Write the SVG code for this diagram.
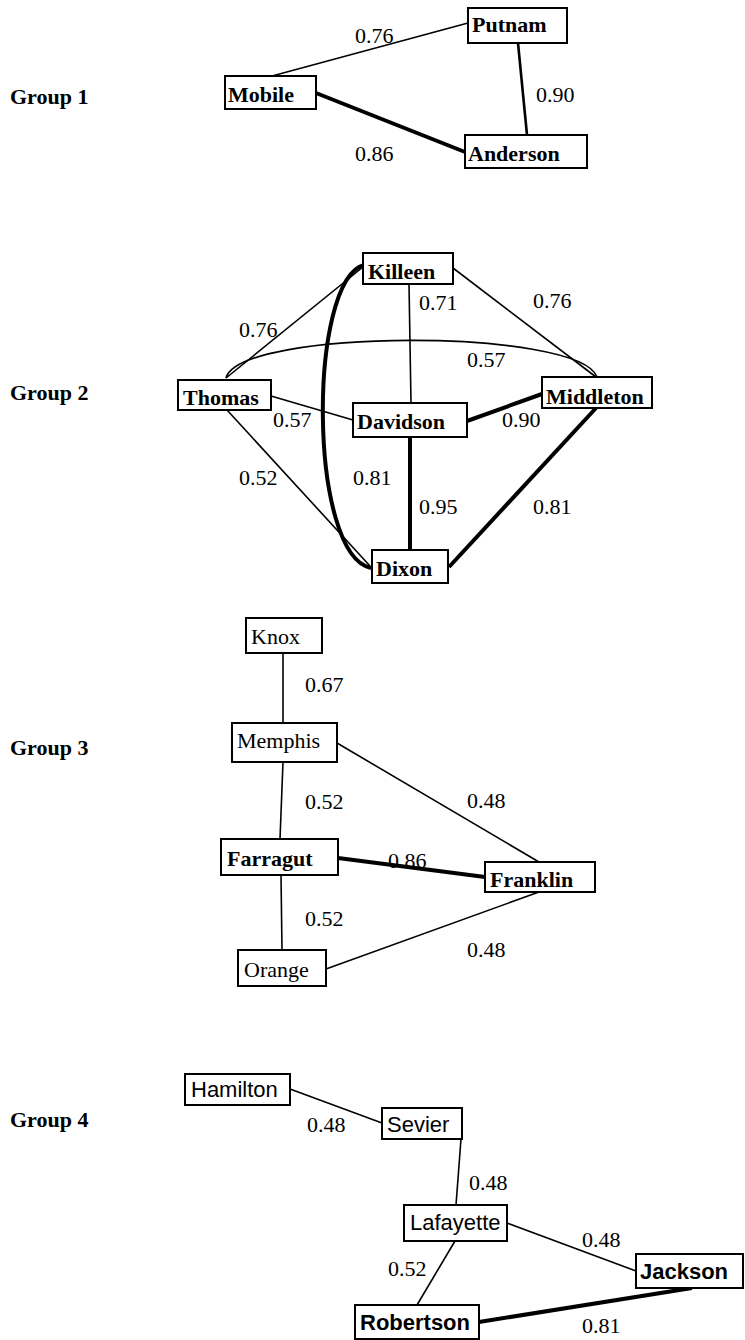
<svg xmlns="http://www.w3.org/2000/svg" width="745" height="1340" viewBox="0 0 745 1340">
<style>
.bg{fill:#fff}
.box{fill:#fff;stroke:#000;stroke-width:2}
text{fill:#000;font-size:22px}
.tb{font-family:"Liberation Serif","Times New Roman",serif;font-weight:bold}
.tr{font-family:"Liberation Serif","Times New Roman",serif}
.sr{font-family:"Liberation Sans",Arial,sans-serif}
.sb{font-family:"Liberation Sans",Arial,sans-serif;font-weight:bold}
.e1{fill:none;stroke:#000;stroke-width:1.6}
.e2{fill:none;stroke:#000;stroke-width:2.6}
.e3{fill:none;stroke:#000;stroke-width:4}
</style>
<rect class="bg" x="0" y="0" width="745" height="1340"/>
<g id="group-labels">
<text class="tb" x="10" y="104">Group 1</text>
<text class="tb" x="10" y="400">Group 2</text>
<text class="tb" x="10" y="755">Group 3</text>
<text class="tb" x="10" y="1127">Group 4</text>
</g>
<g id="connectors">
<line class="e1" x1="272" y1="76" x2="468" y2="23"/>
<line class="e2" x1="518" y1="43" x2="527" y2="135"/>
<line class="e3" x1="316" y1="93" x2="465" y2="152"/>
<line class="e1" x1="363" y1="267" x2="226" y2="378"/>
<line class="e1" x1="453" y1="268" x2="596" y2="377"/>
<line class="e1" x1="409" y1="284" x2="411" y2="403"/>
<path class="e1" d="M226,378 C240,328 580,328 597,377"/>
<line class="e1" x1="271" y1="396" x2="353" y2="420"/>
<line class="e1" x1="227" y1="410" x2="370" y2="566"/>
<path class="e3" d="M364,265 C308,280 308,555 371,568"/>
<line class="e3" x1="410" y1="437" x2="410" y2="550"/>
<line class="e3" x1="467" y1="421" x2="542" y2="394"/>
<line class="e3" x1="596" y1="408" x2="449" y2="567"/>
<line class="e1" x1="283" y1="653" x2="283" y2="723"/>
<line class="e1" x1="283" y1="762" x2="280" y2="839"/>
<line class="e1" x1="337" y1="743" x2="539" y2="862"/>
<line class="e3" x1="338" y1="858" x2="485" y2="877"/>
<line class="e1" x1="281" y1="875" x2="282" y2="950"/>
<line class="e1" x1="539" y1="892" x2="326" y2="969"/>
<line class="e1" x1="290" y1="1089" x2="382" y2="1123"/>
<line class="e1" x1="461" y1="1139" x2="456" y2="1205"/>
<line class="e1" x1="507" y1="1223" x2="636" y2="1271"/>
<line class="e1" x1="455" y1="1241" x2="417" y2="1305"/>
<line class="e3" x1="479" y1="1322" x2="692" y2="1288"/>
</g>
<g id="edge-labels" class="tr">
<text x="355" y="43">0.76</text>
<text x="536" y="102">0.90</text>
<text x="355" y="161">0.86</text>
<text x="239" y="337">0.76</text>
<text x="419" y="310">0.71</text>
<text x="533" y="308">0.76</text>
<text x="467" y="367">0.57</text>
<text x="273" y="427">0.57</text>
<text x="502" y="427">0.90</text>
<text x="239" y="485">0.52</text>
<text x="353" y="485">0.81</text>
<text x="419" y="514">0.95</text>
<text x="533" y="514">0.81</text>
<text x="305" y="692">0.67</text>
<text x="305" y="809">0.52</text>
<text x="467" y="808">0.48</text>
<text x="388" y="868">0.86</text>
<text x="305" y="926">0.52</text>
<text x="467" y="957">0.48</text>
<text x="307" y="1132">0.48</text>
<text x="469" y="1190">0.48</text>
<text x="582" y="1247">0.48</text>
<text x="388" y="1276">0.52</text>
<text x="582" y="1333">0.81</text>
</g>
<g id="Putnam"><rect class="box" x="468" y="8" width="99" height="35"/><text class="tb" x="472" y="32">Putnam</text></g>
<g id="Mobile"><rect class="box" x="225" y="76" width="91" height="33"/><text class="tb" x="228" y="102">Mobile</text></g>
<g id="Anderson"><rect class="box" x="465" y="135" width="122" height="33"/><text class="tb" x="468" y="161">Anderson</text></g>
<g id="Killeen"><rect class="box" x="363" y="253" width="90" height="31"/><text class="tb" x="368" y="279">Killeen</text></g>
<g id="Thomas"><rect class="box" x="178" y="380" width="93" height="30"/><text class="tb" x="183" y="405">Thomas</text></g>
<g id="Davidson"><rect class="box" x="353" y="403" width="114" height="34"/><text class="tb" x="357" y="429">Davidson</text></g>
<g id="Middleton"><rect class="box" x="542" y="377" width="110" height="31"/><text class="tb" x="546" y="404">Middleton</text></g>
<g id="Dixon"><rect class="box" x="372" y="550" width="76" height="33"/><text class="tb" x="376" y="576">Dixon</text></g>
<g id="Knox"><rect class="box" x="246" y="618" width="76" height="35"/><text class="tr" x="251" y="644">Knox</text></g>
<g id="Memphis"><rect class="box" x="232" y="723" width="105" height="39"/><text class="tr" x="237" y="748">Memphis</text></g>
<g id="Farragut"><rect class="box" x="221" y="839" width="117" height="36"/><text class="tb" x="227" y="866">Farragut</text></g>
<g id="Franklin"><rect class="box" x="485" y="862" width="110" height="30"/><text class="tb" x="490" y="887">Franklin</text></g>
<g id="Orange"><rect class="box" x="238" y="950" width="88" height="36"/><text class="tr" x="244" y="977">Orange</text></g>
<g id="Hamilton"><rect class="box" x="185" y="1074" width="105" height="31"/><text class="sr" x="191" y="1097">Hamilton</text></g>
<g id="Sevier"><rect class="box" x="382" y="1108" width="80" height="31"/><text class="sr" x="387" y="1132">Sevier</text></g>
<g id="Lafayette"><rect class="box" x="404" y="1205" width="103" height="36"/><text class="sr" x="410" y="1230">Lafayette</text></g>
<g id="Jackson"><rect class="box" x="636" y="1254" width="107" height="34"/><text class="sb" x="640" y="1279">Jackson</text></g>
<g id="Robertson"><rect class="box" x="355" y="1305" width="124" height="34"/><text class="sb" x="360" y="1330">Robertson</text></g>
</svg>
